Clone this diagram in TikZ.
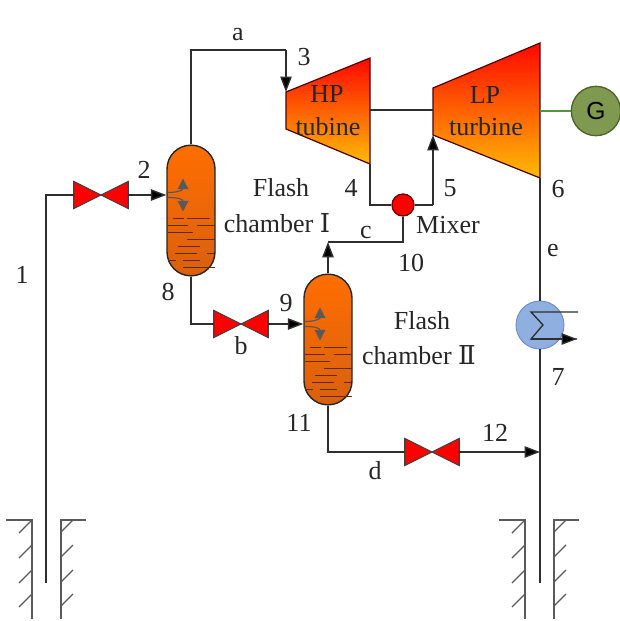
\documentclass[tikz,border=0pt]{standalone}
\usepackage{fontspec}
\setmainfont{Liberation Serif}
\newfontfamily\gfont{Liberation Sans}
\newfontfamily\romfont{DejaVu Serif}
\usetikzlibrary{arrows.meta,calc}
\definecolor{ln}{HTML}{2E2E2E}
\definecolor{chtop}{HTML}{FF6E00}
\definecolor{chbot}{HTML}{D9600F}
\definecolor{turbtop}{HTML}{FF0800}
\definecolor{turbbot}{HTML}{FFBB05}
\definecolor{hxfill}{HTML}{8FAFE0}
\definecolor{hxline}{HTML}{6C8CC4}
\definecolor{gfill}{HTML}{7F9A50}
\definecolor{gline}{HTML}{4F6228}
\definecolor{shaft}{HTML}{4E9A3A}
\definecolor{wellc}{HTML}{5A5A5A}
\tikzset{
  x=0.75pt,y=-0.75pt,
  pipe/.style={draw=ln,line width=1.05pt,line join=miter},
  flow/.style={pipe,-{Triangle[length=11.5pt,width=8.5pt,fill=black]}},
  txt/.style={font=\fontsize{19.5}{22}\selectfont,inner sep=0pt,text=black!85},
  chamberbox/.style={draw=black!85,line width=1.05pt,rounded corners=17.9pt,minimum width=36pt,minimum height=98pt,inner sep=0pt,top color=chtop,bottom color=chbot,shading angle=0},
  turb/.style={draw=black!70!red,line width=0.9pt,top color=turbtop,bottom color=turbbot,line join=miter},
  valvehole/.style={minimum width=40.5pt,minimum height=20pt,inner sep=0pt},
  valvetri/.style={fill=red,draw=black!75,line width=0.8pt,line join=miter},
  liq/.style={draw=black!55!chbot,line width=0.7pt},
  bub/.style={draw=black!65,line width=0.9pt,-{Triangle[length=8pt,width=8pt,fill=black!65]}},
  wall/.style={draw=wellc,line width=1.2pt},
  hatchline/.style={draw=wellc,line width=1pt},
}
\newcommand{\valveat}[2]{%
  \node[valvehole] (#1) at (#2) {};
  \path[valvetri] (#1.north west) -- (#1.south west) -- (#1.center) -- cycle;
  \path[valvetri] (#1.north east) -- (#1.south east) -- (#1.center) -- cycle;
}
\newcommand{\chamberat}[2]{%
  \node[chamberbox] (#1) at (#2) {};
  \begin{scope}[shift={(#1.center)}]
    \foreach \xa/\xb/\yy in {-18/-7/7.5,-4/19/7.5,-23/-3/14.5,6/23/14.5,-23/2/21.5,-4/24/28.5,-13/9/35.5,-16/6/42.5,16/23/42.5,-23/-15/49.5,-8/9/49.5,-8/24/56.5}
      \draw[liq] (\xa,\yy) -- (\xb,\yy);
    \draw[bub] (-23,-18) .. controls (-12,-18) and (-8,-21) .. (-8,-32);
    \draw[bub] (-23,-13) .. controls (-12,-13) and (-8,-11) .. (-8,1);
  \end{scope}
}
\newcommand{\wellat}[3]{%
  % #1 left wall x, #2 right wall x, #3 name
  \coordinate (#3-lw) at (#1,520);
  \coordinate (#3-rw) at (#2,520);
  \draw[wall] ($(#3-lw)+(-26,0)$) -- (#3-lw) -- ($(#3-lw)+(0,99)$);
  \draw[wall] ($(#3-rw)+(25,0)$) -- (#3-rw) -- ($(#3-rw)+(0,99)$);
  \foreach \yy in {0,25,50,74}{
    \draw[hatchline] ($(#3-lw)+(0,\yy)$) -- ++(-13,13);
    \draw[hatchline] ($(#3-rw)+(0,\yy+12)$) -- ++(12,-12);
  }
}
\begin{document}
\begin{tikzpicture}
\useasboundingbox (0,0) rectangle (619,621);
% equipment
\chamberat{fa}{191,210.5}
\chamberat{fb}{328,339.5}
\valveat{va}{101,195}
\valveat{vb}{241,324}
\valveat{vc}{432,452}
% turbines
\coordinate (hplt) at (286,92);
\coordinate (hplb) at (286,129);
\coordinate (hprt) at (370,58);
\coordinate (hprb) at (370,164);
\coordinate (lplt) at (433,88);
\coordinate (lplb) at (433,135);
\coordinate (lprt) at (540,43);
\coordinate (lprb) at (540,178);
\path[turb] (hplt) -- (hprt) -- (hprb) -- (hplb) -- cycle;
\path[turb] (lplt) -- (lprt) -- (lprb) -- (lplb) -- cycle;
\coordinate (hpr) at (370,110);
\coordinate (lpl) at (433,110);
\coordinate (lpr) at (540,111);
% other nodes
\node[circle,draw=gline,line width=1pt,fill=gfill,minimum size=37pt,inner sep=0pt,font=\gfont\fontsize{18.5}{20}\selectfont] (gen) at (596,111) {G};
\node[circle,draw=black!55!red,line width=1pt,fill=red,minimum size=16.5pt,inner sep=0pt] (mix) at (403,205) {};
\node[circle,draw=hxline,line width=0.7pt,fill=hxfill,minimum size=36pt,inner sep=0pt] (hx) at (540,325) {};
% free ends and corners
\coordinate (wa) at (46,583);
\coordinate (wb) at (540,583);
\coordinate (topa) at (191,50);
\coordinate (topb) at (286,50);
\coordinate (cj) at (328,242);
\coordinate (m4) at (370,205);
\coordinate (m5) at (433,205);
\coordinate (join) at (540,452);
\coordinate (hxa) at (578,312);
\coordinate (hxb) at (531,312);
\coordinate (hxc) at (543,325);
\coordinate (hxd) at (531,339);
\coordinate (hxe) at (577,339);
% connectors
\draw[pipe] (wa) |- (va.west);
\draw[flow] (va.east) -- (fa.west |- va.east);
\draw[pipe] (fa.north) -- (topa) -- (topb);
\draw[flow] (topb) -- (hplt);
\draw[pipe] (fa.south) |- (vb.west);
\draw[flow] (vb.east) -- (fb.west |- vb.east);
\draw[pipe] (hpr) -- (lpl);
\draw[pipe] (hprb) -- (m4) -- (mix.west);
\draw[pipe] (mix.east) -- (m5);
\draw[flow] (m5) -- (lplb);
\draw[pipe] (mix.south) |- (cj);
\draw[flow] (fb.north) -- (cj);
\draw[pipe] (fb.south) |- (vc.west);
\draw[flow] (vc.east) -- (join);
\draw[pipe] (lprb) -- (hx.north);
\draw[pipe] (hx.south) -- (wb);
\draw[draw=shaft,line width=1pt] (lpr) -- (gen.west);
\draw[pipe,line width=1pt] (hxa) -- (hxb) -- (hxc) -- (hxd) -- (hxe);
\draw[flow,line width=1pt] (hxd) -- (hxe);
% wells
\wellat{32}{61}{wl}
\wellat{525}{554}{wr}
% text
\node[txt] (t1) at (22,275) {1};
\node[txt] (t2) at (144,170) {2};
\node[txt] (t3) at (304,57) {3};
\node[txt] (t4) at (351,188) {4};
\node[txt] (t5) at (450,188) {5};
\node[txt] (t6) at (558,189) {6};
\node[txt] (t7) at (558,377) {7};
\node[txt] (t8) at (168,292) {8};
\node[txt] (t9) at (286,303) {9};
\node[txt] (t10) at (411,263) {10};
\node[txt] (t11) at (299,423) {11};
\node[txt] (t12) at (495,433) {12};
\node[txt] (la) at (238,35) {a};
\node[txt] (lb) at (241,346) {b};
\node[txt] (lc) at (366,232) {c};
\node[txt] (ld) at (375,471) {d};
\node[txt] (le) at (553,250) {e};
\node[txt] (hp1) at (327,94) {HP};
\node[txt] (hp2) at (328,127) {tubine};
\node[txt] (lp1) at (485,95) {LP};
\node[txt] (lp2) at (486,127) {turbine};
\node[txt] (mx) at (448,225) {Mixer};
\node[txt] (fa1) at (281,188) {Flash};
\node[txt] (fa2) at (277,223) {chamber {\romfont Ⅰ}};
\node[txt] (fb1) at (422,321) {Flash};
\node[txt] (fb2) at (419,355) {chamber {\romfont Ⅱ}};
\end{tikzpicture}
\end{document}
